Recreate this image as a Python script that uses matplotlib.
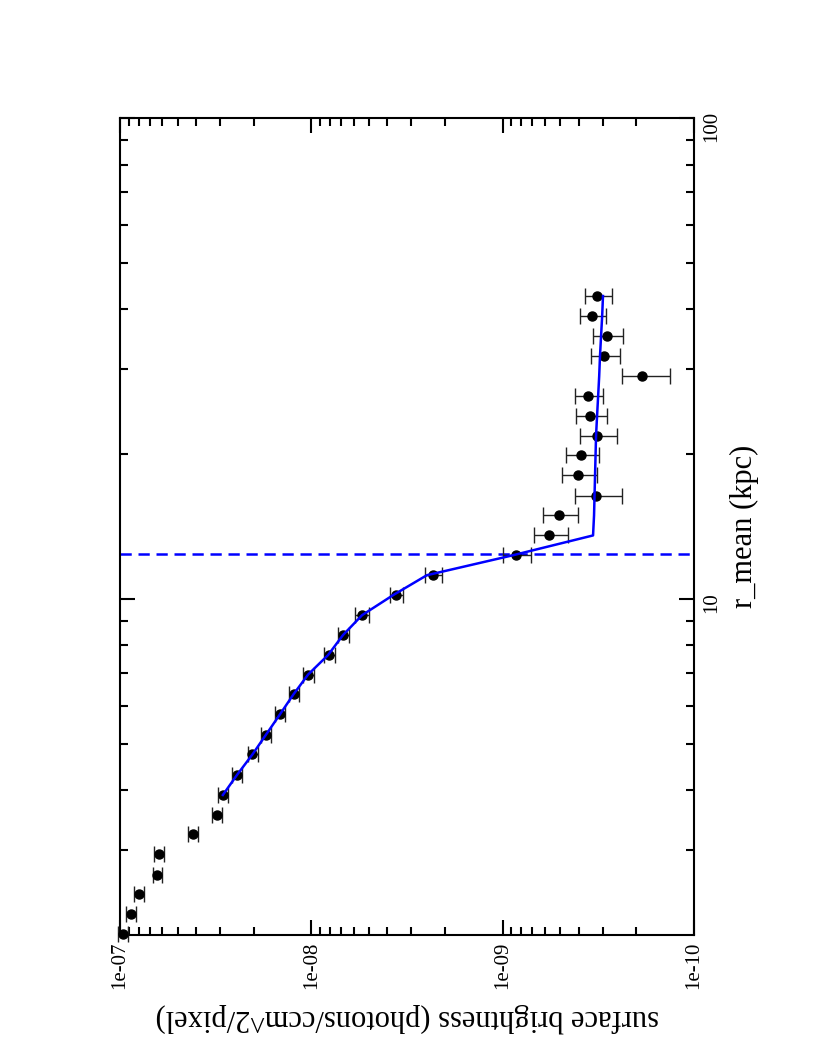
import matplotlib
matplotlib.use('Agg')
import matplotlib.pyplot as plt
from matplotlib.ticker import FixedLocator, FuncFormatter, NullFormatter, LogLocator

plt.rcParams['font.family'] = ['Liberation Serif', 'DejaVu Serif']

# radius (kpc) of each annulus
r_kpc = [2.01, 2.21, 2.43, 2.67, 2.95, 3.24, 3.56, 3.91, 4.31, 4.75, 5.22, 5.75,
         6.33, 6.96, 7.64, 8.41, 9.25, 10.18, 11.2, 12.31, 13.55, 14.91, 16.39,
         18.07, 19.89, 21.86, 24.06, 26.39, 29.05, 31.97, 35.2, 38.73, 42.64]
# surface brightness (photons/ccm^2/pixel)
brightness = [9.68e-8, 8.73e-8, 7.96e-8, 6.38e-8, 6.28e-8, 4.17e-8, 3.12e-8,
              2.90e-8, 2.44e-8, 2.03e-8, 1.73e-8, 1.46e-8, 1.237e-8, 1.037e-8,
              8.05e-9, 6.83e-9, 5.45e-9, 3.60e-9, 2.32e-9, 8.52e-10, 5.72e-10,
              5.08e-10, 3.27e-10, 4.05e-10, 3.91e-10, 3.22e-10, 3.50e-10,
              3.58e-10, 1.86e-10, 2.94e-10, 2.86e-10, 3.40e-10, 3.20e-10]
brightness_err = [5.8e-9, 5.2e-9, 4.8e-9, 3.8e-9, 3.8e-9, 2.5e-9, 1.9e-9,
                  1.75e-9, 1.5e-9, 1.25e-9, 1.05e-9, 0.9e-9, 0.76e-9, 0.65e-9,
                  0.52e-9, 0.45e-9, 0.43e-9, 0.30e-9, 0.235e-9, 1.43e-10,
                  1.16e-10, 1.05e-10, 0.9e-10, 0.83e-10, 0.78e-10, 0.70e-10,
                  0.64e-10, 0.60e-10, 0.53e-10, 0.51e-10, 0.52e-10, 0.52e-10,
                  0.51e-10]
# broken power-law model, evaluated from the 8th annulus outward
model_r = r_kpc[7:]
model_brightness = [2.90e-8, 2.44e-8, 2.03e-8, 1.725e-8, 1.46e-8, 1.24e-8,
                    1.04e-8, 8.18e-9, 6.83e-9, 5.43e-9, 3.74e-9, 2.49e-9,
                    8.94e-10, 3.37e-10, 3.33e-10, 3.31e-10, 3.29e-10, 3.27e-10,
                    3.25e-10, 3.21e-10, 3.17e-10, 3.13e-10, 3.10e-10, 3.06e-10,
                    3.02e-10, 2.99e-10]
break_radius = 12.38

x_major = [1e-7, 1e-8, 1e-9, 1e-10]
y_major = [10, 100]
y_minor = [3, 4, 5, 6, 7, 8, 9, 20, 30, 40, 50, 60, 70, 80, 90]

fig = plt.figure(figsize=(8.16, 10.58), dpi=100)
ax = fig.add_axes([120/816, 1 - 935/1058, 574/816, 817/1058])
ax.set_xscale('log')
ax.set_yscale('log')
ax.set_xlim(1e-7, 1e-10)
ax.set_ylim(2, 100)

ax.errorbar(brightness, r_kpc, xerr=brightness_err, fmt='o', color='k',
            ms=6.5, ecolor='#222222', elinewidth=1.0, capsize=6, capthick=1.0,
            clip_on=False, zorder=3)
ax.plot(model_brightness, model_r, color='#0000ff', lw=1.8, zorder=4)
ax.axhline(break_radius, color='#0000ff', lw=1.8, ls=(0, (4.5, 2.7)), zorder=2)

ax.xaxis.set_major_locator(FixedLocator(x_major))
ax.xaxis.set_minor_locator(LogLocator(base=10, subs=[2, 3, 4, 5, 6, 7, 8, 9]))
ax.xaxis.set_major_formatter(FuncFormatter(lambda v, p: f'{v:.0e}'))
ax.xaxis.set_minor_formatter(NullFormatter())
ax.yaxis.set_major_locator(FixedLocator(y_major))
ax.yaxis.set_minor_locator(FixedLocator(y_minor))
ax.yaxis.set_major_formatter(FuncFormatter(lambda v, p: f'{v:g}'))
ax.yaxis.set_minor_formatter(NullFormatter())

ax.tick_params(axis='both', which='both', direction='in', width=1.5,
               top=True, bottom=True, left=True, right=True,
               labelleft=False, labelright=True, labelsize=15)
ax.tick_params(axis='both', which='major', length=11)
ax.tick_params(axis='both', which='minor', length=6)
ax.tick_params(axis='x', labelrotation=90, pad=5)
ax.tick_params(axis='y', labelrotation=90, pad=6)

for s in ax.spines.values():
    s.set_linewidth(1.5)

ax.set_xlabel('surface brightness (photons/ccm^2/pixel)', rotation=180,
              fontsize=22, labelpad=10)
ax.yaxis.set_label_position('right')
ax.set_ylabel('r_mean (kpc)', rotation=90, fontsize=22, labelpad=6)

fig.savefig('out.png', dpi=100)
